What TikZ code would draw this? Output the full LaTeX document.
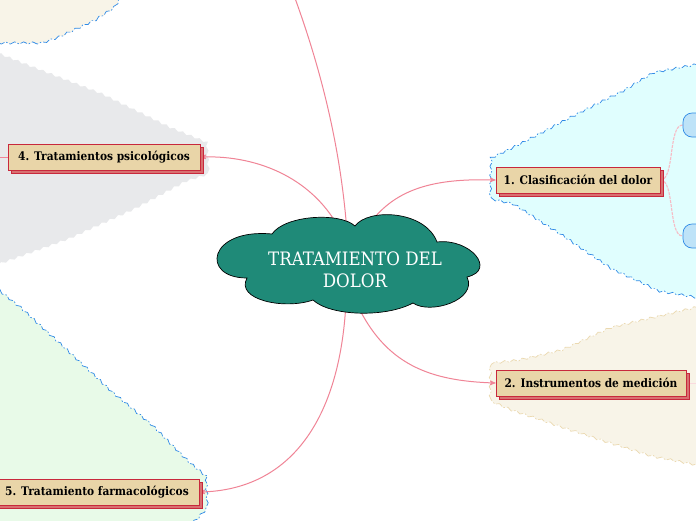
\documentclass[tikz,border=0pt]{standalone}
\usepackage{fontspec}
\setmainfont{DejaVu Serif}
\newfontfamily\slabfont{DejaVu Serif Condensed}
\usetikzlibrary{arrows,shadows,backgrounds,decorations.pathmorphing}

\definecolor{hubteal}{RGB}{31,138,120}
\definecolor{linkpink}{RGB}{240,132,150}
\definecolor{boxtan}{RGB}{233,213,168}
\definecolor{boxred}{RGB}{200,40,60}
\definecolor{shadowred}{RGB}{216,112,112}
\definecolor{zonecyan}{RGB}{224,254,254}
\definecolor{zonebeige}{RGB}{248,244,232}
\definecolor{zonegrey}{RGB}{232,233,235}
\definecolor{zonegreen}{RGB}{232,250,232}
\definecolor{dashblue}{RGB}{47,138,230}
\definecolor{dashtan}{RGB}{235,217,176}
\definecolor{leafcyan}{RGB}{190,227,248}

\begin{document}
\begin{tikzpicture}[x=1pt,y=-1pt,>=stealth',
	link/.style={->,draw=linkpink,line width=1pt},
	sublink/.style={draw=linkpink!55,line width=1.1pt,dash pattern=on 3pt off 1pt},
	zone/.style={decorate,decoration={snake,segment length=9pt,amplitude=1.1pt}},
	bluezone/.style={zone,draw=dashblue,line width=0.7pt,dash pattern=on 7pt off 2pt on 1.5pt off 2pt},
	tanzone/.style={zone,draw=dashtan,line width=0.7pt,dash pattern=on 7pt off 2pt on 1.5pt off 2pt},
	hubcloud/.style={fill=hubteal,draw=black,line width=0.7pt},
	hub/.style={text=white,align=center,inner sep=0pt,font=\slabfont\fontsize{18.5}{22}\selectfont},
	branch/.style={rectangle,draw=boxred,line width=0.8pt,fill=boxtan,minimum height=26pt,
		inner xsep=6pt,font=\slabfont\bfseries\fontsize{11.8}{13}\selectfont,
		general shadow={fill=shadowred,draw=boxred,shadow xshift=3pt,shadow yshift=-3pt}},
	leaf/.style={rectangle,rounded corners=9pt,draw=dashblue,fill=leafcyan,line width=0.7pt,
		minimum width=36pt,minimum height=24pt}]
\useasboundingbox (0,0) rectangle (696,520);
\clip (0,0) rectangle (696,520);

% coloured zones behind the branches
\begin{pgfonlayer}{background}
\fill[white] (0,0) rectangle (696,520);
\path[bluezone,fill=zonebeige] (-10,-10) -- (122,-10) -- (112,6) -- (94,18) -- (60,34)
	-- (40,41) -- (-10,41) -- cycle;
\path[zone,fill=zonegrey] (-10,50) -- (33,67) -- (100,93) -- (167,126) -- (204,141)
	-- (206,175) -- (187,181) -- (133,210) -- (67,240) -- (-10,268) -- cycle;
\path[bluezone,fill=zonegreen] (-10,283) -- (20,307) -- (67,350) -- (110,390) -- (150,423)
	-- (187,460) -- (204,474) -- (205,506) -- (196,516) -- (180,530) -- (-10,530) -- cycle;
\path[bluezone,fill=zonecyan] (710,62) -- (656,72) -- (626,90) -- (580,113) -- (523,143)
	-- (492,158) -- (491,196) -- (513,201) -- (563,233) -- (613,267) -- (662,290)
	-- (710,298) -- cycle;
\path[tanzone,fill=zonebeige] (710,304) -- (613,327) -- (563,350) -- (520,360) -- (492,363)
	-- (492,398) -- (513,407) -- (590,433) -- (653,453) -- (710,464) -- cycle;
\end{pgfonlayer}

% central cloud
\path[hubcloud] (272,234) .. controls (285,215) and (340,212) .. (355,226)
	.. controls (368,208) and (425,210) .. (437,242)
	.. controls (470,238) and (497,270) .. (467,277)
	.. controls (478,300) and (430,315) .. (413,303)
	.. controls (385,318) and (330,316) .. (313,300)
	.. controls (285,310) and (235,300) .. (247,278)
	.. controls (200,278) and (208,228) .. (272,234) -- cycle;
\node[hub] (hub) at (355,270) {TRATAMIENTO DEL\\DOLOR};

\node[branch,minimum width=164pt] (clasif) at (578,180) {1. Clasificación del dolor};
\node[branch,minimum width=190pt] (medicion) at (591,383) {2. Instrumentos de medición};
\node[branch,minimum width=192pt] (psico) at (104,157) {4. Tratamientos psicológicos};
\node[branch,minimum width=204pt] (farmaco) at (97,492) {5. Tratamiento farmacológicos};

\node[leaf] (leafa) at (701,125) {};
\node[leaf] (leafb) at (701,236) {};

\coordinate (offtop) at (292,-10);
\coordinate (offleft) at (-10,157);
\coordinate (offright) at (710,383);

% links from the centre
\begin{pgfonlayer}{background}
\draw[link] ([xshift=9pt,yshift=38pt]hub.center) .. controls (390,190) and (430,178) .. (clasif.west);
\draw[link] ([xshift=1pt,yshift=-32pt]hub.center) .. controls (385,365) and (430,381) .. (medicion.west);
\draw[link,-] ([xshift=-8pt,yshift=38pt]hub.center) .. controls (340,140) and (318,60) .. (offtop);
\draw[link] ([xshift=-14pt,yshift=38pt]hub.center) .. controls (315,180) and (260,155) .. (psico.east);
\draw[link] ([xshift=-9pt,yshift=-32pt]hub.center) .. controls (340,420) and (290,490) .. (farmaco.east);
\draw[link,-] (psico.west) -- (offleft);
\draw[link,-,draw=linkpink!30] (medicion.east) -- (offright);
\draw[sublink] (clasif.east) .. controls (675,180) and (668,125) .. (leafa.west);
\draw[sublink] (clasif.east) .. controls (675,180) and (668,236) .. (leafb.west);
\end{pgfonlayer}
\end{tikzpicture}
\end{document}
